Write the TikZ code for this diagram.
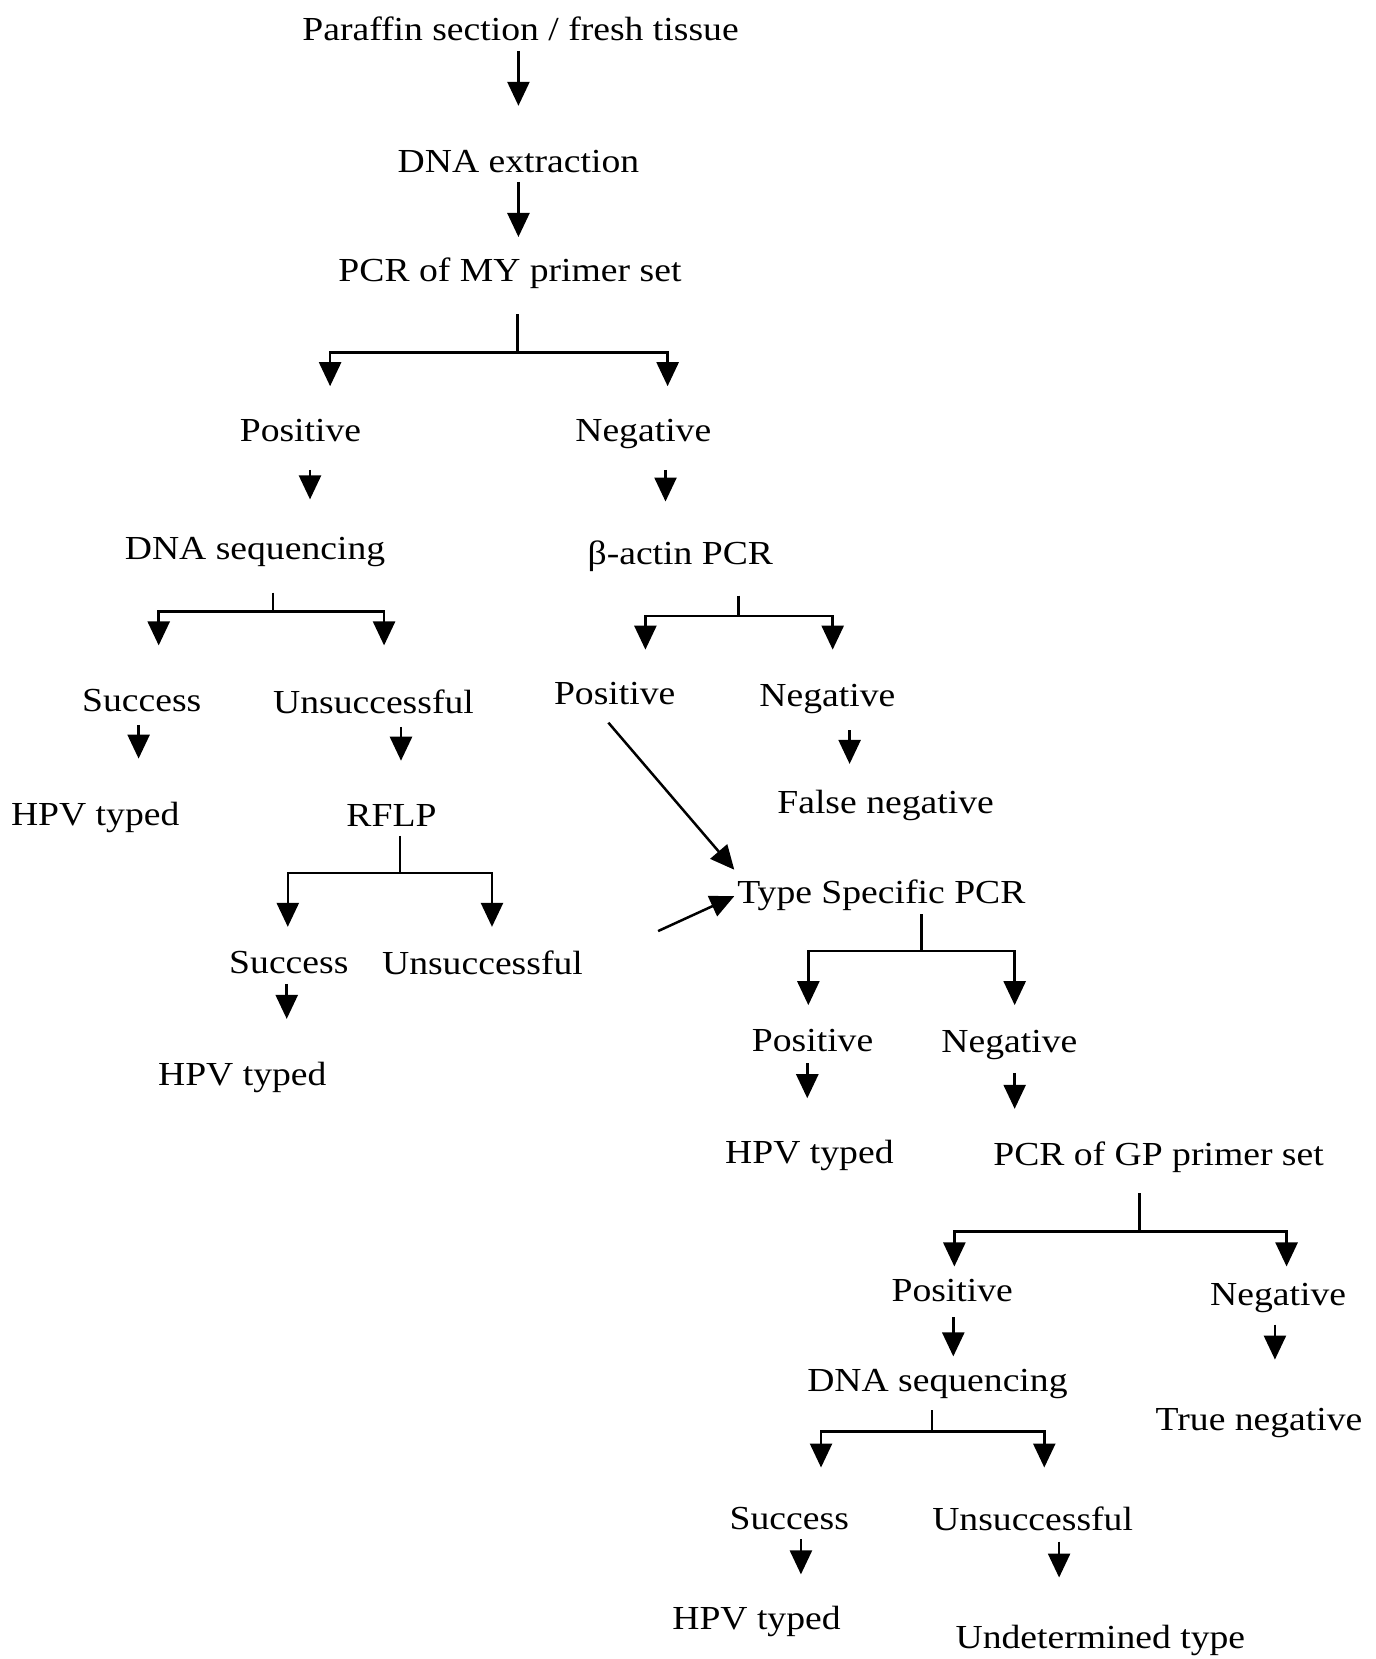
\documentclass[tikz,border=0pt]{standalone}
\usepackage{fontspec}
\setmainfont{Liberation Serif}[FakeStretch=1.12]
\usetikzlibrary{arrows.meta,calc}
\newcommand{\lowtxt}[1]{\raisebox{-1pt}{#1}}
\begin{document}
\begin{tikzpicture}[x=0.5288pt,y=-0.5288pt,
  lbl/.style={font=\fontsize{16.8}{20}\selectfont, inner sep=0pt, anchor=base},
  ln/.style={line width=1.25pt},
  arr/.style={line width=1.25pt,-{Triangle[width=11pt,length=12pt]}}]
\useasboundingbox (0,0) rectangle (1300,1568);
% nodes
\node[lbl] (t1) at (492,36) {\lowtxt{Paraffin section / fresh tissue}};
\node[lbl] (t2) at (490,161) {\lowtxt{DNA extraction}};
\node[lbl] (t3) at (482,264) {\lowtxt{PCR of MY primer set}};
\node[lbl] (p1) at (284,415) {\lowtxt{Positive}};
\node[lbl] (n1) at (608,415) {\lowtxt{Negative}};
\node[lbl] (s1) at (241,527) {\lowtxt{DNA sequencing}};
\node[lbl] (b1) at (643,532) {\lowtxt{β-actin PCR}};
\node[lbl] (su1) at (134,671) {\lowtxt{Success}};
\node[lbl] (un1) at (353,672) {\lowtxt{Unsuccessful}};
\node[lbl] (p2) at (581,664) {\lowtxt{Positive}};
\node[lbl] (n2) at (782,666) {\lowtxt{Negative}};
\node[lbl] (h1) at (90,778) {\lowtxt{HPV typed}};
\node[lbl] (r1) at (370,779) {\lowtxt{RFLP}};
\node[lbl] (f1) at (837,767) {\lowtxt{False negative}};
\node[lbl] (ts) at (833,852) {\lowtxt{Type Specific PCR}};
\node[lbl] (su2) at (273,918) {\lowtxt{Success}};
\node[lbl] (un2) at (456,919) {\lowtxt{Unsuccessful}};
\node[lbl] (h2) at (229,1024) {\lowtxt{HPV typed}};
\node[lbl] (p3) at (768,992) {\lowtxt{Positive}};
\node[lbl] (n3) at (954,993) {\lowtxt{Negative}};
\node[lbl] (h3) at (765,1098) {\lowtxt{HPV typed}};
\node[lbl] (gp) at (1095,1100) {\lowtxt{PCR of GP primer set}};
\node[lbl] (p4) at (900,1228) {\lowtxt{Positive}};
\node[lbl] (n4) at (1208,1232) {\lowtxt{Negative}};
\node[lbl] (s2) at (886,1313) {\lowtxt{DNA sequencing}};
\node[lbl] (tn) at (1190,1350) {\lowtxt{True negative}};
\node[lbl] (su3) at (746,1444) {\lowtxt{Success}};
\node[lbl] (un3) at (976,1445) {\lowtxt{Unsuccessful}};
\node[lbl] (h4) at (715,1538) {\lowtxt{HPV typed}};
\node[lbl] (ud) at (1040,1556) {\lowtxt{Undetermined type}};
% single arrows
\draw[arr] ([shift={(-2,12)}]t1.base) -- ([shift={(0,-61)}]t2.base);
\draw[arr] ([shift={(0,11)}]t2.base) -- ([shift={(8,-40)}]t3.base);
\draw[arr] ([shift={(9,29)}]p1.base) -- ([shift={(52,-55)}]s1.base);
\draw[arr] ([shift={(21,29)}]n1.base) -- ([shift={(-14,-58)}]b1.base);
\draw[arr] ([shift={(-3,14)}]su1.base) -- ([shift={(41,-61)}]h1.base);
\draw[arr] ([shift={(26,15)}]un1.base) -- ([shift={(9,-60)}]r1.base);
\draw[arr] ([shift={(21,24)}]n2.base) -- ([shift={(-34,-45)}]f1.base);
\draw[arr] ([shift={(-6,19)}]p2.base) -- ([shift={(-139,-30)}]ts.base);
\draw[arr] ([shift={(166,-39)}]un2.base) -- ([shift={(-139,-5)}]ts.base);
\draw[arr] ([shift={(-2,12)}]su2.base) -- ([shift={(42,-61)}]h2.base);
\draw[arr] ([shift={(-5,13)}]p3.base) -- ([shift={(-2,-60)}]h3.base);
\draw[arr] ([shift={(5,21)}]n3.base) -- ([shift={(-136,-52)}]gp.base);
\draw[arr] ([shift={(1,17)}]p4.base) -- ([shift={(15,-31)}]s2.base);
\draw[arr] ([shift={(-3,20)}]n4.base) -- ([shift={(15,-65)}]tn.base);
\draw[arr] ([shift={(11,11)}]su3.base) -- ([shift={(42,-50)}]h4.base);
\draw[arr] ([shift={(25,12)}]un3.base) -- ([shift={(-39,-65)}]ud.base);
% branches
\draw[ln] ([shift={(7,33)}]t3.base) -- ++(0,36) coordinate (j1);
\draw[arr] (j1) -| ([shift={(28,-50)}]p1.base);
\draw[arr] (j1) -| ([shift={(23,-50)}]n1.base);
\draw[ln] ([shift={(17,33)}]s1.base) -- ++(0,18) coordinate (j2);
\draw[arr] (j2) -| ([shift={(16,-61)}]su1.base);
\draw[arr] (j2) -| ([shift={(10,-62)}]un1.base);
\draw[ln] ([shift={(55,31)}]b1.base) -- ++(0,19) coordinate (j3);
\draw[arr] (j3) -| ([shift={(29,-50)}]p2.base);
\draw[arr] (j3) -| ([shift={(5,-52)}]n2.base);
\draw[ln] ([shift={(8,11)}]r1.base) -- ++(0,35) coordinate (j4);
\draw[arr] (j4) -| ([shift={(-1,-42)}]su2.base);
\draw[arr] (j4) -| ([shift={(9,-43)}]un2.base);
\draw[ln] ([shift={(38,12)}]ts.base) -- ++(0,35) coordinate (j5);
\draw[arr] (j5) -| ([shift={(-4,-42)}]p3.base);
\draw[arr] (j5) -| ([shift={(5,-43)}]n3.base);
\draw[ln] ([shift={(-18,28)}]gp.base) -- ++(0,36) coordinate (j6);
\draw[arr] (j6) -| ([shift={(2,-31)}]p4.base);
\draw[arr] (j6) -| ([shift={(8,-35)}]n4.base);
\draw[ln] ([shift={(-5,20)}]s2.base) -- ++(0,20) coordinate (j7);
\draw[arr] (j7) -| ([shift={(30,-57)}]su3.base);
\draw[arr] (j7) -| ([shift={(11,-58)}]un3.base);
\end{tikzpicture}
\end{document}
